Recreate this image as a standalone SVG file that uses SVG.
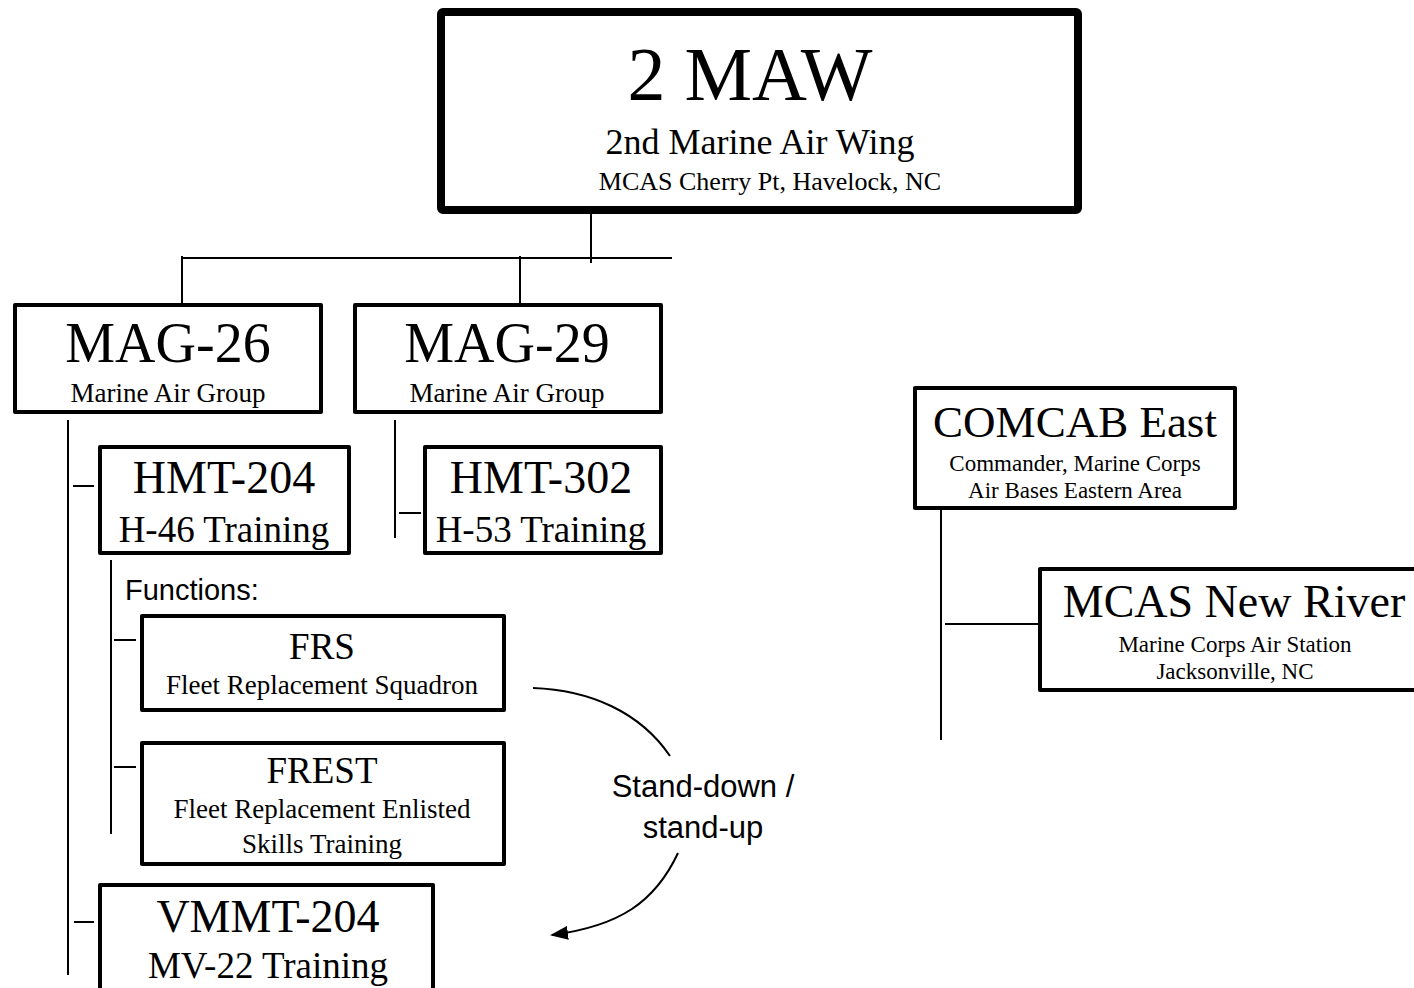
<svg xmlns="http://www.w3.org/2000/svg" width="1414" height="988" viewBox="0 0 1414 988">
<defs>
<style>
.box{fill:#fff;stroke:#000;stroke-width:4;stroke-linejoin:round}
.thick{stroke-width:8}
.ln{stroke:#000;stroke-width:2;fill:none}
.t{font-family:"Liberation Serif","Times New Roman",serif;fill:#000;text-anchor:middle}
.s{font-family:"Liberation Sans",Arial,sans-serif;fill:#000}
</style>
<marker id="arr" viewBox="0 0 18 14" refX="16" refY="7" markerWidth="18" markerHeight="14" orient="auto" markerUnits="userSpaceOnUse">
<path d="M0,0 L18,7 L0,14 z" fill="#000"/>
</marker>
</defs>
<rect width="1414" height="988" fill="#fff"/>
<g id="connectors">
<path class="ln" d="M591,214 V263 M182,258 H672 M182,256 V305 M520,256 V305"/>
<path class="ln" d="M68,420 V975 M73,486 H94 M74,922 H94"/>
<path class="ln" d="M395,420 V538 M399,513 H421"/>
<path class="ln" d="M111,560 V834 M114,640 H136 M114,767 H136"/>
<path class="ln" d="M941,510 V740 M945,624 H1038"/>
<path class="ln" d="M533,688 C590,690 640,712 670,756"/>
<path class="ln" d="M678,853 C655,902 620,926 552,935" marker-end="url(#arr)"/>
<text class="s" x="703" y="797" font-size="31" text-anchor="middle">Stand-down /</text>
<text class="s" x="703" y="838" font-size="31" text-anchor="middle">stand-up</text>
</g>
<g id="n-2maw">
<rect class="box thick" x="441" y="12" width="637" height="198" rx="2"/>
<text class="t" x="750" y="100" font-size="76">2 MAW</text>
<text class="t" x="760" y="154" font-size="36">2nd Marine Air Wing</text>
<text class="t" x="770" y="190" font-size="26">MCAS Cherry Pt, Havelock, NC</text>
</g>
<g id="n-mag26">
<rect class="box" x="15" y="305" width="306" height="107"/>
<text class="t" x="168" y="362" font-size="56">MAG-26</text>
<text class="t" x="168" y="402" font-size="27">Marine Air Group</text>
</g>
<g id="n-mag29">
<rect class="box" x="355" y="305" width="306" height="107"/>
<text class="t" x="507" y="362" font-size="56">MAG-29</text>
<text class="t" x="507" y="402" font-size="27">Marine Air Group</text>
</g>
<g id="n-hmt204">
<rect class="box" x="100" y="447" width="249" height="106"/>
<text class="t" x="224" y="493" font-size="46">HMT-204</text>
<text class="t" x="224" y="542" font-size="37">H-46 Training</text>
</g>
<g id="n-hmt302">
<rect class="box" x="425" y="447" width="236" height="106"/>
<text class="t" x="541" y="493" font-size="46">HMT-302</text>
<text class="t" x="541" y="542" font-size="37">H-53 Training</text>
</g>
<g id="n-functions">
<text class="s" x="125" y="600" font-size="29">Functions:</text>
</g>
<g id="n-frs">
<rect class="box" x="142" y="616" width="362" height="94"/>
<text class="t" x="322" y="659" font-size="37">FRS</text>
<text class="t" x="322" y="694" font-size="27">Fleet Replacement Squadron</text>
</g>
<g id="n-frest">
<rect class="box" x="142" y="743" width="362" height="121"/>
<text class="t" x="322" y="783" font-size="37">FREST</text>
<text class="t" x="322" y="818" font-size="27">Fleet Replacement Enlisted</text>
<text class="t" x="322" y="853" font-size="27">Skills Training</text>
</g>
<g id="n-vmmt204">
<rect class="box" x="100" y="885" width="333" height="120"/>
<text class="t" x="268" y="932" font-size="46">VMMT-204</text>
<text class="t" x="268" y="978" font-size="37">MV-22 Training</text>
</g>
<g id="n-comcab">
<rect class="box" x="915" y="388" width="320" height="120"/>
<text class="t" x="1075" y="437" font-size="45">COMCAB East</text>
<text class="t" x="1075" y="471" font-size="23">Commander, Marine Corps</text>
<text class="t" x="1075" y="498" font-size="23">Air Bases Eastern Area</text>
</g>
<g id="n-newriver">
<rect class="box" x="1040" y="569" width="390" height="121"/>
<text class="t" x="1234" y="617" font-size="46">MCAS New River</text>
<text class="t" x="1235" y="652" font-size="23">Marine Corps Air Station</text>
<text class="t" x="1235" y="679" font-size="23">Jacksonville, NC</text>
</g>
</svg>
